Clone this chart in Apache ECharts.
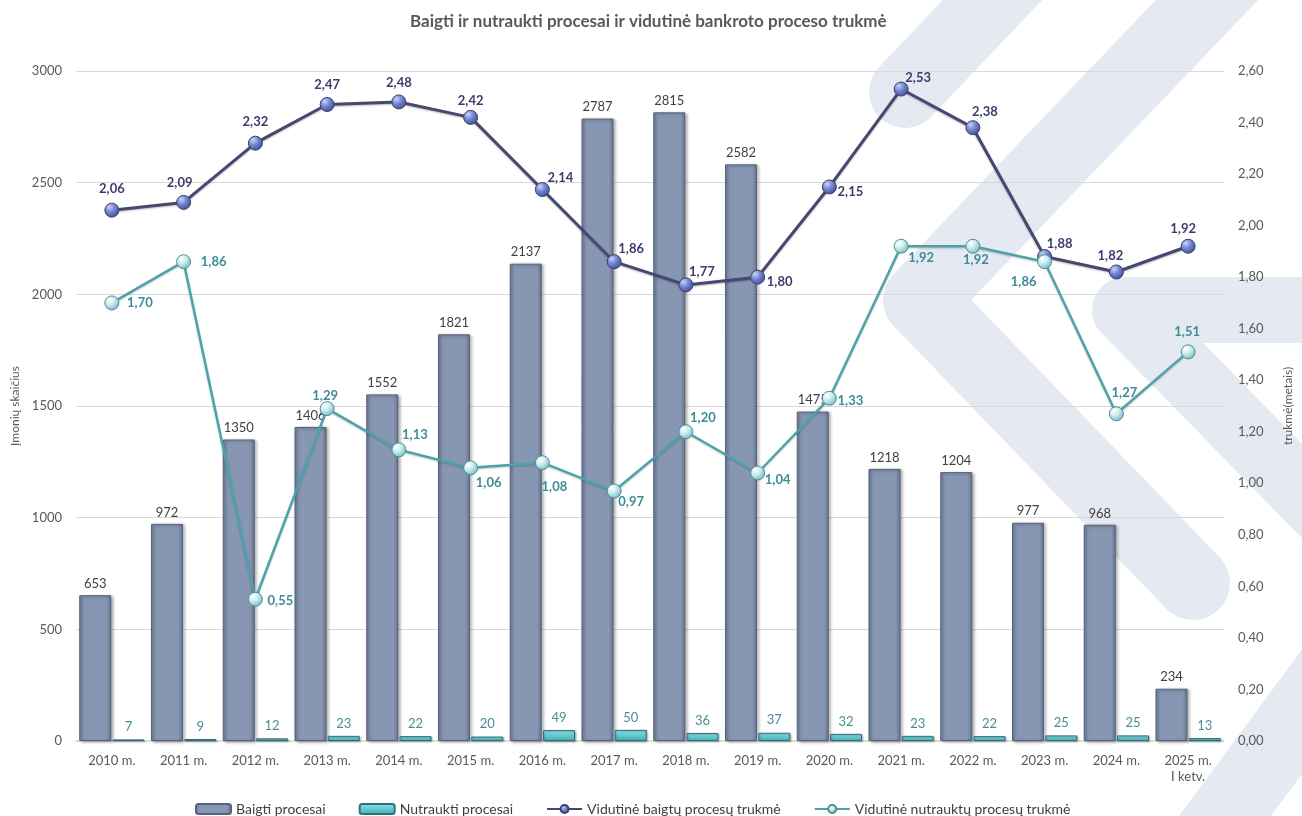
<!DOCTYPE html>
<html>
<head>
<meta charset="utf-8">
<script src="https://cdn.jsdelivr.net/npm/echarts@6/dist/echarts.min.js"></script>
<style>
  html, body { margin: 0; padding: 0; background: #ffffff; }
  #chart { width: 1302px; height: 816px; }
</style>
</head>
<body>
<div id="chart"></div>
<script>
// ---- Data ----
const categories = ['2010 m.', '2011 m.', '2012 m.', '2013 m.', '2014 m.', '2015 m.', '2016 m.', '2017 m.',
  '2018 m.', '2019 m.', '2020 m.', '2021 m.', '2022 m.', '2023 m.', '2024 m.', '2025 m.\nI ketv.'];
const baigtiProcesai = [653, 972, 1350, 1406, 1552, 1821, 2137, 2787, 2815, 2582, 1475, 1218, 1204, 977, 968, 234];
const nutrauktiProcesai = [7, 9, 12, 23, 22, 20, 49, 50, 36, 37, 32, 23, 22, 25, 25, 13];
const trukmeBaigtu = [2.06, 2.09, 2.32, 2.47, 2.48, 2.42, 2.14, 1.86, 1.77, 1.80, 2.15, 2.53, 2.38, 1.88, 1.82, 1.92];
const trukmeNutrauktu = [1.70, 1.86, 0.55, 1.29, 1.13, 1.06, 1.08, 0.97, 1.20, 1.04, 1.33, 1.92, 1.92, 1.86, 1.27, 1.51];
const seriesNames = ['Baigti procesai', 'Nutraukti procesai', 'Vidutinė baigtų procesų trukmė', 'Vidutinė nutrauktų procesų trukmė'];
const leftAxis = { min: 0, max: 3000, interval: 500 };
const rightAxis = { min: 0, max: 2.6, interval: 0.2 };

// ---- Label placement (style only) ----
const baigtuLabelOffsets = [[0,-21],[-4,-20],[0,-21],[0,-20],[0,-19],[0,-17],[18,-12],[17,-13],[16,-13],[22,5],
  [21,5],[17,-11],[12,-16],[15,-13],[-6,-16],[-5,-17]];
const nutrauktuLabelOffsets = [[28,0],[30,0],[25,2],[-2,-13],[16,-15],[18,15],[12,24],[17,11],[17,-14],[20,7],
  [21,3],[20,12],[3,14],[-21,20],[8,-21],[-1,-20]];

const FONT = 'Lato, "Open Sans", sans-serif';
const fmt2 = v => v.toFixed(2).replace('.', ',');

const chart = echarts.init(document.getElementById('chart'), null, { renderer: 'canvas' });

const bg = '#e4e9f2';
function band(points, width) {
  return {
    type: 'polyline', z: -100, silent: true,
    shape: { points: points },
    style: { stroke: bg, lineWidth: width, lineCap: 'round', lineJoin: 'round', fill: null }
  };
}

const option = {
  backgroundColor: '#ffffff',
  animation: false,
  textStyle: { fontFamily: FONT },
  graphic: {
    elements: [
      band([[905, 92], [1040, -50]], 72),
      band([[1250, -45], [920, 300], [1193, 583]], 74),
      band([[1360, 310], [1125, 310], [1340, 530]], 66),
      band([[1185, 870], [1355, 640]], 74)
    ]
  },
  title: {
    text: 'Baigti ir nutraukti procesai ir vidutinė bankroto proceso trukmė',
    left: 405, top: 8,
    textStyle: { fontFamily: FONT, fontSize: 17, fontWeight: 'bold', color: '#595959' }
  },
  legend: {
    data: seriesNames,
    left: 190, top: 797,
    itemWidth: 35, itemHeight: 10, itemGap: 33,
    textStyle: { fontFamily: FONT, fontSize: 14, color: '#404040' }
  },
  grid: { left: 76, right: 76, top: 71, bottom: 75 },
  xAxis: {
    type: 'category',
    data: categories,
    axisLine: { lineStyle: { color: '#d9d9d9', width: 1.5 } },
    axisTick: { show: false },
    axisLabel: { color: '#595959', fontSize: 13, fontFamily: FONT, margin: 12, lineHeight: 16, interval: 0 }
  },
  yAxis: [
    {
      type: 'value', min: leftAxis.min, max: leftAxis.max, interval: leftAxis.interval,
      name: 'Įmonių skaičius', nameLocation: 'middle', nameRotate: 90, nameGap: 52,
      nameTextStyle: { color: '#595959', fontSize: 12, fontFamily: FONT },
      axisLine: { show: false }, axisTick: { show: false },
      axisLabel: { color: '#595959', fontSize: 13, fontFamily: FONT, margin: 14, formatter: v => String(v) },
      splitLine: { lineStyle: { color: '#d9d9d9', width: 1 } }
    },
    {
      type: 'value', min: rightAxis.min, max: rightAxis.max, interval: rightAxis.interval,
      name: 'trukmė(metais)', nameLocation: 'middle', nameRotate: 90, nameGap: 58,
      nameTextStyle: { color: '#595959', fontSize: 12, fontFamily: FONT },
      axisLine: { show: false }, axisTick: { show: false },
      axisLabel: { color: '#595959', fontSize: 13, fontFamily: FONT, margin: 14, formatter: v => fmt2(v) },
      splitLine: { show: false }
    }
  ],
  series: [
    {
      name: seriesNames[0], type: 'bar', yAxisIndex: 0, data: baigtiProcesai,
      barWidth: 32, barGap: '4%', z: 2,
      itemStyle: {
        color: new echarts.graphic.LinearGradient(0, 0, 1, 0, [
          { offset: 0, color: '#6c7c98' }, { offset: 0.12, color: '#8797b3' },
          { offset: 0.85, color: '#8797b3' }, { offset: 1, color: '#65748e' }
        ]),
        borderColor: '#56637b', borderWidth: 1,
        shadowColor: 'rgba(0,0,0,0.35)', shadowBlur: 3, shadowOffsetX: 2, shadowOffsetY: 1
      },
      label: { show: true, position: 'top', distance: 5, color: '#404040', fontSize: 13, fontFamily: FONT }
    },
    {
      name: seriesNames[1], type: 'bar', yAxisIndex: 0, data: nutrauktiProcesai,
      barWidth: 32, z: 2,
      itemStyle: {
        color: new echarts.graphic.LinearGradient(0, 0, 0, 1, [
          { offset: 0, color: '#9fe3e8' }, { offset: 0.5, color: '#5fc9d1' }, { offset: 1, color: '#45aab3' }
        ]),
        borderColor: '#2f707a', borderWidth: 1,
        shadowColor: 'rgba(0,0,0,0.3)', shadowBlur: 2, shadowOffsetX: 1, shadowOffsetY: 1
      },
      label: { show: true, position: 'top', distance: 6, color: '#4b8d97', fontSize: 13, fontFamily: FONT }
    },
    {
      name: seriesNames[2], type: 'line', yAxisIndex: 1, z: 5,
      data: trukmeBaigtu.map((v, i) => ({
        value: v,
        label: { offset: baigtuLabelOffsets[i] }
      })),
      lineStyle: { color: '#47476f', width: 3, shadowColor: 'rgba(0,0,0,0.25)', shadowBlur: 2, shadowOffsetY: 1 },
      symbol: 'circle', symbolSize: 14,
      itemStyle: {
        color: new echarts.graphic.RadialGradient(0.35, 0.3, 0.75, [
          { offset: 0, color: '#c9d3f7' }, { offset: 0.45, color: '#7486d2' }, { offset: 1, color: '#3f4c93' }
        ]),
        borderColor: '#3a3f6e', borderWidth: 1
      },
      label: {
        show: true, position: 'inside', color: '#3d3c6e', fontSize: 13, fontWeight: 'bold', fontFamily: FONT,
        formatter: p => fmt2(p.value)
      }
    },
    {
      name: seriesNames[3], type: 'line', yAxisIndex: 1, z: 6,
      data: trukmeNutrauktu.map((v, i) => ({
        value: v,
        label: { offset: nutrauktuLabelOffsets[i] }
      })),
      lineStyle: { color: '#4ea3ab', width: 2.5, shadowColor: 'rgba(0,0,0,0.2)', shadowBlur: 2, shadowOffsetY: 1 },
      symbol: 'circle', symbolSize: 14,
      itemStyle: {
        color: new echarts.graphic.RadialGradient(0.35, 0.3, 0.75, [
          { offset: 0, color: '#ffffff' }, { offset: 0.45, color: '#c9ebed' }, { offset: 1, color: '#74b7bd' }
        ]),
        borderColor: '#4a8f96', borderWidth: 1
      },
      label: {
        show: true, position: 'inside', color: '#3e8c96', fontSize: 13, fontWeight: 'bold', fontFamily: FONT,
        formatter: p => fmt2(p.value)
      }
    }
  ]
};
chart.setOption(option);
</script>
</body>
</html>
